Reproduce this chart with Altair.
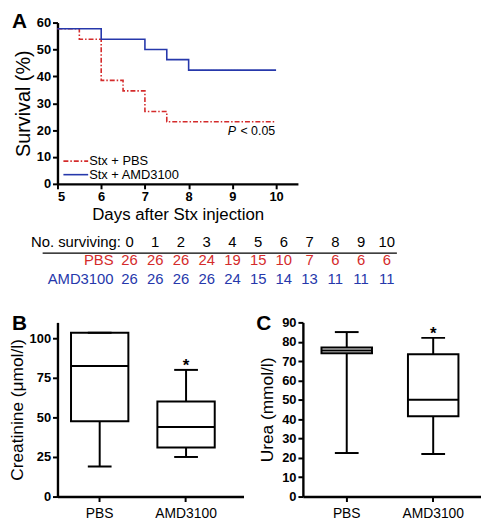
import altair as alt
import pandas as pd

FONT = "Liberation Sans"
RED = "#d42b2b"
BLUE = "#2638ab"
BLACK = "#000000"

# ---- Panel A: Kaplan-Meier style survival (%) ----
series_names = ["PBS", "AMD3100"]
legend_labels = ["Stx + PBS", "Stx + AMD3100"]
pbs_days = [5, 5.5, 6, 6.5, 7, 7.5, 10]
pbs_survival = [57.7, 53.8, 38.5, 34.6, 26.9, 23.1, 23.1]
amd_days = [5, 6, 7, 7.5, 8, 10]
amd_survival = [57.7, 53.8, 50.0, 46.2, 42.3, 42.3]
days_ticks = [5, 6, 7, 8, 9, 10]
survival_ticks = [0, 10, 20, 30, 40, 50, 60]

# ---- No. surviving table ----
table_days = [0, 1, 2, 3, 4, 5, 6, 7, 8, 9, 10]
pbs_surviving = [26, 26, 26, 24, 19, 15, 10, 7, 6, 6, 6]
amd_surviving = [26, 26, 26, 26, 24, 15, 14, 13, 11, 11, 11]
row_labels = ["No. surviving:", "PBS", "AMD3100"]

# ---- Panels B and C: box plots ----
groups = ["PBS", "AMD3100"]
significance = ["", "*"]
creat_min = [19, 25]
creat_q1 = [47.5, 31]
creat_median = [82.5, 44]
creat_q3 = [103.5, 60]
creat_max = [103.5, 80]
creat_ticks = [0, 25, 50, 75, 100]

urea_min = [22.5, 22]
urea_q1 = [74, 41.5]
urea_median = [75.5, 50]
urea_q3 = [77, 73.5]
urea_max = [85, 82]
urea_ticks = [0, 10, 20, 30, 40, 50, 60, 70, 80, 90]


def letter(ch, dx, dy):
    return alt.Chart(pd.DataFrame({"t": [ch]})).mark_text(
        align="left", baseline="top", fontSize=21, fontWeight="bold", font=FONT, color=BLACK
    ).encode(text="t:N", x=alt.value(dx), y=alt.value(dy))


# ---------------- Panel A ----------------
surv_df = pd.DataFrame({
    "day": pbs_days + amd_days,
    "survival": pbs_survival + amd_survival,
    "series": ["PBS"] * len(pbs_days) + ["AMD3100"] * len(amd_days),
})
color_scale = alt.Scale(domain=series_names, range=[RED, BLUE])
dash_scale = alt.Scale(domain=series_names, range=[[5, 2, 1.5, 2], [1, 0]])

curves = alt.Chart(surv_df).mark_line(interpolate="step-after", strokeWidth=1.6).encode(
    x=alt.X("day:Q", scale=alt.Scale(domain=[5, 10.5], nice=False, zero=False),
            axis=alt.Axis(values=days_ticks, format="d", title="Days after Stx injection",
                          titleFontSize=17, titlePadding=3)),
    y=alt.Y("survival:Q", scale=alt.Scale(domain=[0, 60], nice=False),
            axis=alt.Axis(values=survival_ticks, title="Survival (%)", titleFontSize=20, titlePadding=3)),
    color=alt.Color("series:N", scale=color_scale, legend=None),
    strokeDash=alt.StrokeDash("series:N", scale=dash_scale, legend=None),
)

leg_pbs_line = alt.Chart(pd.DataFrame({"s": ["PBS"]})).mark_rule(
    color=RED, strokeDash=[5, 2, 1.5, 2], strokeWidth=1.6
).encode(x=alt.value(6), x2=alt.value(31), y=alt.value(140))
leg_amd_line = alt.Chart(pd.DataFrame({"s": ["AMD3100"]})).mark_rule(
    color=BLUE, strokeWidth=1.6
).encode(x=alt.value(6), x2=alt.value(31), y=alt.value(153.7))
leg_pbs_text = alt.Chart(pd.DataFrame({"t": [legend_labels[0]]})).mark_text(
    align="left", baseline="middle", fontSize=13, font=FONT, color=BLACK
).encode(text="t:N", x=alt.value(32), y=alt.value(140))
leg_amd_text = alt.Chart(pd.DataFrame({"t": [legend_labels[1]]})).mark_text(
    align="left", baseline="middle", fontSize=13, font=FONT, color=BLACK
).encode(text="t:N", x=alt.value(32), y=alt.value(153.7))

p_italic = alt.Chart(pd.DataFrame({"t": ["P"]})).mark_text(
    align="left", baseline="middle", fontSize=12.5, font=FONT, fontStyle="italic", color=BLACK
).encode(text="t:N", x=alt.value(172), y=alt.value(110))
p_rest = alt.Chart(pd.DataFrame({"t": ["< 0.05"]})).mark_text(
    align="right", baseline="middle", fontSize=12.5, font=FONT, color=BLACK
).encode(text="t:N", x=alt.value(220), y=alt.value(110))

panel_a = alt.layer(
    curves, leg_pbs_line, leg_amd_line, leg_pbs_text, leg_amd_text, p_italic, p_rest,
    letter("A", -46, -12)
).properties(width=243, height=163)

# ---------------- Table ----------------
tbl_df = pd.DataFrame({
    "day": table_days * 3,
    "row": [0] * 11 + [1] * 11 + [2] * 11,
    "txt": [str(d) for d in table_days] + [str(v) for v in pbs_surviving] + [str(v) for v in amd_surviving],
    "kind": ["header"] * 11 + ["PBS"] * 11 + ["AMD3100"] * 11,
})
lbl_df = pd.DataFrame({"row": [0, 1, 2], "label": row_labels, "kind": ["header", "PBS", "AMD3100"]})
kind_color = alt.Scale(domain=["header", "PBS", "AMD3100"], range=[BLACK, RED, BLUE])
tx = alt.X("day:Q", scale=alt.Scale(domain=[-2.8, 10.47], nice=False, zero=False), axis=None)
ty = alt.Y("row:Q", scale=alt.Scale(domain=[-1.03, 2.22], nice=False, zero=False, reverse=True), axis=None)
TFS = 15

counts = alt.Chart(tbl_df).mark_text(fontSize=TFS, font=FONT, baseline="middle").encode(
    x=tx, y=ty, text="txt:N", color=alt.Color("kind:N", scale=kind_color, legend=None)
)
header_lbl = alt.Chart(lbl_df).transform_filter(alt.datum.row == 0).mark_text(
    align="right", baseline="middle", fontSize=TFS, font=FONT
).encode(x=alt.value(64), y=ty, text="label:N", color=alt.Color("kind:N", scale=kind_color, legend=None))
group_lbl = alt.Chart(lbl_df).transform_filter(alt.datum.row > 0).mark_text(
    align="right", baseline="middle", fontSize=TFS, font=FONT
).encode(x=alt.value(56.7), y=ty, text="label:N", color=alt.Color("kind:N", scale=kind_color, legend=None))
tbl_rule = alt.Chart(pd.DataFrame({"r": [0]})).mark_rule(color=BLACK, strokeWidth=1.5).encode(
    x=alt.value(-15), x2=alt.value(343), y=alt.value(30)
)
table = alt.layer(counts, header_lbl, group_lbl, tbl_rule).properties(width=345, height=60)


# ---------------- Box panels ----------------
def box_panel(mins, q1s, meds, q3s, maxs, ydomain, yticks, ytitle, letter_ch, letter_dx, letter_dy,
              width, pad_in, pad_out, align, box_w, title_pad):
    df = pd.DataFrame({"group": groups, "lo": mins, "q1": q1s, "med": meds, "q3": q3s,
                       "hi": maxs, "sig": significance})
    x = alt.X("group:N", sort=groups,
              scale=alt.Scale(paddingInner=pad_in, paddingOuter=pad_out, align=align),
              axis=alt.Axis(title=None, labelAngle=0, labelFontWeight="normal",
                            labelFontSize=14, labelPadding=5))
    ysc = alt.Scale(domain=ydomain, nice=False)
    yax = alt.Axis(values=yticks, title=ytitle, titleFontSize=17.5, titlePadding=title_pad)

    def Y(f):
        return alt.Y(f, scale=ysc, axis=yax)

    base = alt.Chart(df)
    whisk = base.mark_rule(strokeWidth=2, color=BLACK).encode(x=x, y=Y("lo:Q"), y2="hi:Q")
    box = base.mark_bar(fill="white", stroke=BLACK, strokeWidth=2, opacity=1).encode(
        x=x, y=Y("q1:Q"), y2="q3:Q")
    cap_lo = base.mark_tick(size=24, thickness=2, color=BLACK, opacity=1).encode(x=x, y=Y("lo:Q"))
    cap_hi = base.mark_tick(size=24, thickness=2, color=BLACK, opacity=1).encode(x=x, y=Y("hi:Q"))
    med = base.mark_tick(size=box_w, thickness=2, color=BLACK, opacity=1).encode(x=x, y=Y("med:Q"))
    star = base.mark_text(fontSize=17, fontWeight="bold", baseline="alphabetic", dy=1,
                          font=FONT, color=BLACK).encode(x=x, y=Y("hi:Q"), text="sig:N")
    return alt.layer(whisk, box, cap_lo, cap_hi, med, star,
                     letter(letter_ch, letter_dx, letter_dy)).properties(width=width, height=176)


panel_b = box_panel(creat_min, creat_q1, creat_median, creat_q3, creat_max, [0, 110], creat_ticks,
                    "Creatinine (\u03bcmol/l)", "B", -46, -9, 188, 0.336, 0.245, 0.32, 58, 3)
panel_c = box_panel(urea_min, urea_q1, urea_median, urea_q3, urea_max, [0, 90], urea_ticks,
                    "Urea (mmol/l)", "C", -47, -9, 180, 0.416, 0.238, 0.452, 51, 5)

bottom = alt.hconcat(panel_b, panel_c, spacing=60, bounds="flush")

chart = alt.vconcat(panel_a, table, bottom, spacing=40, bounds="flush").resolve_scale(
    color="independent", strokeDash="independent"
).properties(padding=0, background="white").configure_view(stroke=None).configure_axis(
    domainColor=BLACK, domainWidth=2.4, tickColor=BLACK, tickWidth=2, tickSize=5,
    labelColor=BLACK, labelFont=FONT, labelFontSize=13, labelFontWeight="bold",
    titleFont=FONT, titleColor=BLACK, titleFontWeight="normal", grid=False, labelPadding=2,
)

chart.save("out.html", embed_options={"renderer": "svg", "actions": False})
